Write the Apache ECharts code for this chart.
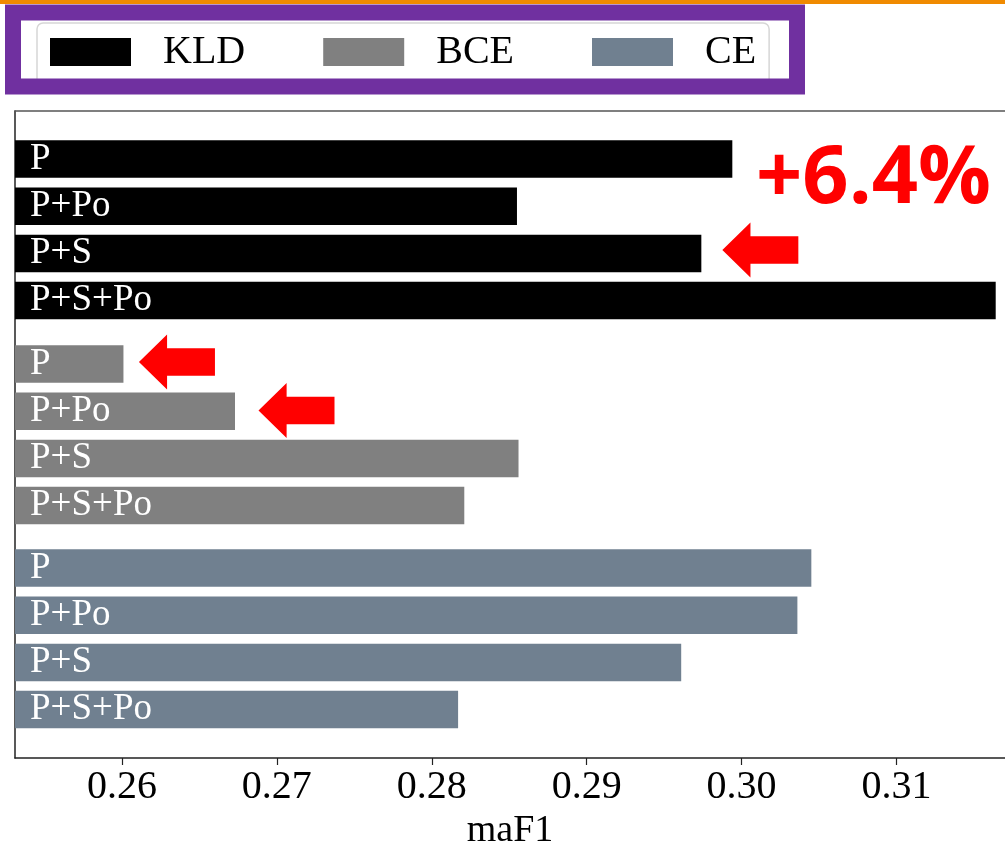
<!DOCTYPE html>
<html>
<head>
<meta charset="utf-8">
<script src="https://cdn.jsdelivr.net/npm/echarts@6/dist/echarts.min.js"></script>
<style>
  html, body { margin: 0; padding: 0; background: #fff; }
  #chart { width: 1005px; height: 847px; }
</style>
</head>
<body>
<div id="chart"></div>
<script>
// ---- data ----
const categories = ['P', 'P+Po', 'P+S', 'P+S+Po'];
const seriesNames = ['KLD', 'BCE', 'CE'];
const kldValues = [0.2994, 0.2855, 0.2974, 0.3164];
const bceValues = [0.2601, 0.2673, 0.2856, 0.2821];
const ceValues  = [0.3045, 0.3036, 0.2961, 0.2817];
const xTickValues = [0.26, 0.27, 0.28, 0.29, 0.30, 0.31];
const xAxisTitle = 'maF1';
const xMin = 0.2531;
const xMax = 0.3170;
// annotation: arrows point at [series index, category index]
const arrowTargets = [[0, 2], [1, 0], [1, 1]];
const annotationText = '+6.4%';

// ---- styles / layout ----
const colors = ['#000000', '#808080', '#708090'];
const valuesBySeries = [kldValues, bceValues, ceValues];
const serif = '"Liberation Serif", "Times New Roman", serif';
const bandH = 47.2;
const groupTops = [135.4, 340.4, 544.4];
const arrowOffsets = [[59, -3.5], [53.5, -2], [61.5, -0.7]];
const arrowPath = 'path://M0,50L37,0L37,25L100,25L100,75L37,75L37,100Z';

const grids = [{ left: 15, right: 0, top: 111, bottom: 89, containLabel: false, outerBoundsMode: 'none' }];
const xAxes = [{
  gridIndex: 0, type: 'value', min: xMin, max: xMax, position: 'bottom',
  name: xAxisTitle, nameLocation: 'middle', nameGap: 43,
  nameTextStyle: { fontFamily: serif, fontSize: 38, color: '#000' },
  axisLine: { show: true, lineStyle: { color: '#222', width: 1.5 } },
  axisTick: { show: true, length: 7, lineStyle: { color: '#222', width: 1.2 }, customValues: xTickValues },
  axisLabel: { show: true, margin: 9, fontFamily: serif, fontSize: 40, color: '#000',
    customValues: xTickValues, formatter: v => v.toFixed(2) },
  splitLine: { show: false }
}, {
  gridIndex: 0, type: 'value', min: xMin, max: xMax, position: 'top',
  axisLine: { show: true, lineStyle: { color: '#555', width: 1.5 } },
  axisTick: { show: false }, axisLabel: { show: false }, splitLine: { show: false }
}];
const yAxes = [{ gridIndex: 0, type: 'value', min: 0, max: 1, position: 'left',
  axisLine: { show: true, lineStyle: { color: '#222', width: 1.5 } },
  axisTick: { show: false }, axisLabel: { show: false }, splitLine: { show: false } }];
const series = [];

seriesNames.forEach((name, i) => {
  grids.push({ left: 15, right: 0, top: groupTops[i], height: bandH * categories.length,
    containLabel: false, outerBoundsMode: 'none' });
  xAxes.push({ gridIndex: i + 1, type: 'value', min: xMin, max: xMax, show: false });
  yAxes.push({ gridIndex: i + 1, type: 'category', data: categories, inverse: true, show: false,
    boundaryGap: true });
  const marks = arrowTargets
    .map((t, k) => ({ t, k }))
    .filter(o => o.t[0] === i)
    .map(o => ({
      coord: [valuesBySeries[i][o.t[1]], categories[o.t[1]]],
      symbol: arrowPath,
      symbolSize: [76, 55],
      symbolKeepAspect: false,
      symbolOffset: arrowOffsets[o.k],
      itemStyle: { color: '#ff0000' },
      label: { show: false }
    }));
  series.push({
    name, type: 'bar',
    xAxisIndex: i + 2, yAxisIndex: i + 1,
    data: valuesBySeries[i],
    barWidth: 37.5,
    itemStyle: { color: colors[i] },
    label: { show: true, position: 'insideLeft', distance: 15, formatter: '{b}',
      color: '#fff', fontFamily: serif, fontSize: 37 },
    emphasis: { disabled: true },
    markPoint: marks.length ? { silent: true, animation: false, data: marks } : undefined
  });
});

const chart = echarts.init(document.getElementById('chart'), null, { renderer: 'canvas' });
chart.setOption({
  backgroundColor: '#fff',
  animation: false,
  grid: grids,
  xAxis: xAxes,
  yAxis: yAxes,
  legend: {
    data: seriesNames,
    left: 37, top: 23,
    orient: 'horizontal',
    icon: 'rect',
    itemWidth: 81, itemHeight: 28, itemGap: 78,
    padding: [7, 13, 14, 13],
    borderColor: '#d6d6d6', borderWidth: 1.5, borderRadius: 6,
    backgroundColor: '#fff',
    selectedMode: false,
    textStyle: { fontFamily: serif, fontSize: 40, color: '#000', lineHeight: 44, padding: [0, 0, 0, 27] }
  },
  series,
  graphic: [
    { type: 'rect', z: 100, shape: { x: 0, y: 0, width: 1005, height: 4 }, style: { fill: '#f08a00' } },
    { type: 'rect', z: 100, shape: { x: 13, y: 12.5, width: 784, height: 74 },
      style: { fill: 'none', stroke: '#7030a0', lineWidth: 16 } },
    { type: 'text', z: 100, x: 756, y: 139,
      style: { text: annotationText, fill: '#ff0000', font: 'bold 81px "Open Sans", "Liberation Sans", sans-serif',
        verticalAlign: 'top', align: 'left' } }
  ]
});
</script>
</body>
</html>
